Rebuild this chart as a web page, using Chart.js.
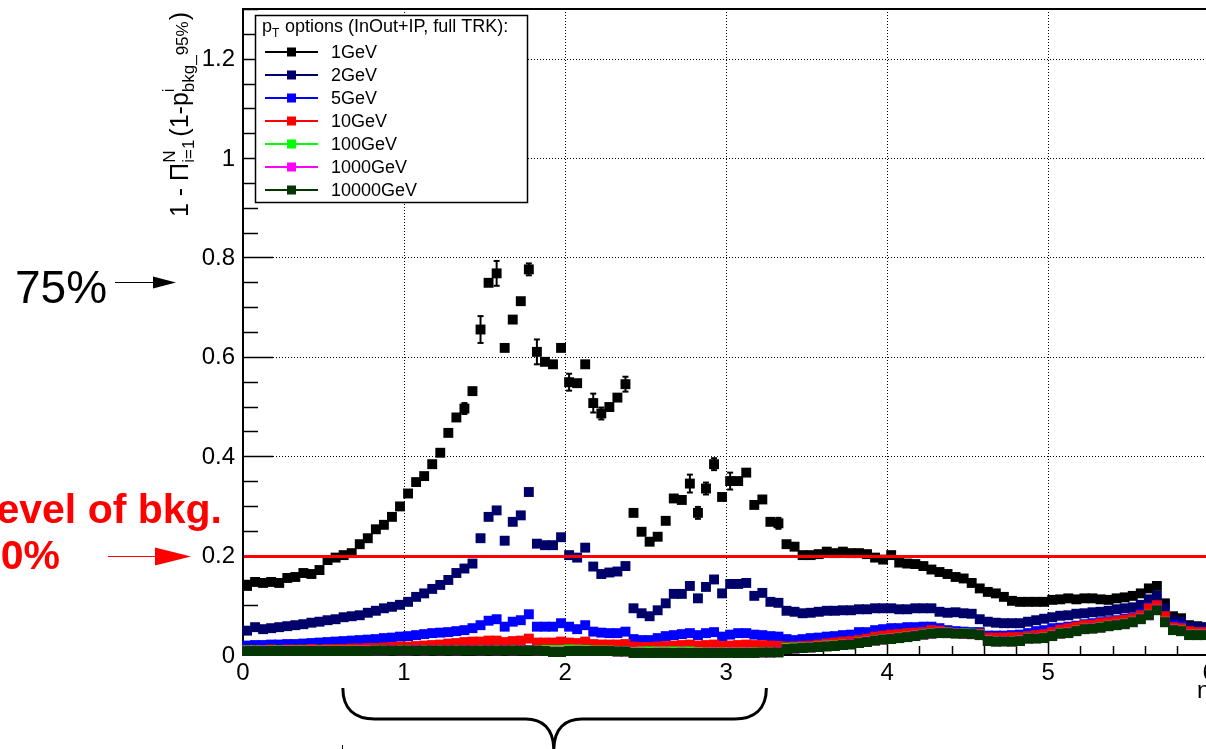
<!DOCTYPE html>
<html>
<head>
<meta charset="utf-8">
<script src="https://cdn.jsdelivr.net/npm/chart.js@4.4.1/dist/chart.umd.min.js"></script>
<style>
  html, body { margin: 0; padding: 0; background: #fff; }
  canvas { display: block; }
</style>
</head>
<body>
<canvas id="eff-chart" width="1206" height="749"></canvas>
<script>
// eta bins: 0.05 wide, 0 .. 6
const etaCenters = Array.from({ length: 120 }, (_, i) => +(0.025 + 0.05 * i).toFixed(3));

const seriesLabels = ['1GeV', '2GeV', '5GeV', '10GeV', '100GeV', '1000GeV', '10000GeV'];
const seriesColors = ['#000000', '#00006b', '#0000ff', '#ff0000', '#00ff00', '#ff00ff', '#033603'];

const pt1GeV = [
  0.139, 0.147, 0.145, 0.147, 0.145, 0.155, 0.157, 0.165, 0.163, 0.171,
  0.191, 0.196, 0.201, 0.205, 0.223, 0.235, 0.253, 0.262, 0.278, 0.299,
  0.325, 0.348, 0.360, 0.384, 0.407, 0.447, 0.478, 0.496, 0.531, 0.655,
  0.749, 0.768, 0.618, 0.675, 0.712, 0.776, 0.610, 0.590, 0.585, 0.618,
  0.549, 0.547, 0.585, 0.507, 0.486, 0.499, 0.518, 0.545, 0.286, 0.248,
  0.228, 0.238, 0.270, 0.315, 0.312, 0.345, 0.286, 0.335, 0.384, 0.318,
  0.350, 0.350, 0.367, 0.302, 0.313, 0.268, 0.265, 0.223, 0.218, 0.201,
  0.201, 0.203, 0.208, 0.205, 0.208, 0.205, 0.205, 0.203, 0.196, 0.192,
  0.201, 0.186, 0.184, 0.183, 0.179, 0.172, 0.167, 0.163, 0.157, 0.154,
  0.145, 0.134, 0.127, 0.124, 0.117, 0.109, 0.107, 0.107, 0.107, 0.107,
  0.111, 0.112, 0.114, 0.112, 0.114, 0.114, 0.112, 0.111, 0.114, 0.116,
  0.119, 0.124, 0.134, 0.139, 0.104, 0.078, 0.074, 0.060, 0.058, 0.056
];
const pt2GeV = [
  0.049, 0.056, 0.052, 0.054, 0.056, 0.058, 0.060, 0.062, 0.065, 0.067,
  0.070, 0.072, 0.076, 0.078, 0.080, 0.085, 0.089, 0.094, 0.097, 0.101,
  0.107, 0.117, 0.124, 0.133, 0.141, 0.151, 0.165, 0.174, 0.184, 0.235,
  0.278, 0.291, 0.230, 0.268, 0.281, 0.328, 0.224, 0.221, 0.221, 0.237,
  0.201, 0.196, 0.216, 0.178, 0.163, 0.166, 0.168, 0.179, 0.094, 0.084,
  0.078, 0.090, 0.104, 0.123, 0.123, 0.139, 0.114, 0.137, 0.152, 0.124,
  0.143, 0.143, 0.145, 0.119, 0.125, 0.107, 0.105, 0.089, 0.087, 0.084,
  0.085, 0.087, 0.089, 0.089, 0.090, 0.090, 0.092, 0.092, 0.094, 0.094,
  0.094, 0.092, 0.092, 0.094, 0.094, 0.094, 0.087, 0.085, 0.086, 0.084,
  0.083, 0.072, 0.067, 0.065, 0.064, 0.064, 0.064, 0.067, 0.070, 0.073,
  0.076, 0.079, 0.080, 0.083, 0.084, 0.086, 0.087, 0.089, 0.092, 0.094,
  0.096, 0.101, 0.112, 0.119, 0.094, 0.070, 0.067, 0.057, 0.056, 0.055
];
const pt5GeV = [
  0.019, 0.020, 0.020, 0.021, 0.021, 0.022, 0.022, 0.023, 0.024, 0.025,
  0.026, 0.027, 0.028, 0.029, 0.030, 0.031, 0.032, 0.034, 0.035, 0.037,
  0.038, 0.040, 0.042, 0.044, 0.045, 0.046, 0.048, 0.050, 0.054, 0.060,
  0.069, 0.072, 0.057, 0.067, 0.070, 0.082, 0.057, 0.057, 0.057, 0.064,
  0.057, 0.052, 0.060, 0.047, 0.045, 0.044, 0.044, 0.047, 0.032, 0.030,
  0.030, 0.034, 0.038, 0.040, 0.042, 0.044, 0.040, 0.044, 0.046, 0.037,
  0.041, 0.044, 0.044, 0.041, 0.040, 0.038, 0.037, 0.032, 0.030, 0.032,
  0.034, 0.035, 0.037, 0.038, 0.040, 0.041, 0.046, 0.046, 0.050, 0.052,
  0.054, 0.054, 0.056, 0.056, 0.057, 0.057, 0.054, 0.050, 0.048, 0.047,
  0.046, 0.046, 0.039, 0.039, 0.039, 0.040, 0.041, 0.044, 0.048, 0.050,
  0.054, 0.055, 0.057, 0.059, 0.062, 0.064, 0.066, 0.068, 0.070, 0.073,
  0.076, 0.083, 0.096, 0.101, 0.078, 0.060, 0.058, 0.048, 0.047, 0.047
];
const pt10GeV = [
  0.010, 0.010, 0.010, 0.011, 0.010, 0.011, 0.011, 0.011, 0.012, 0.011,
  0.012, 0.012, 0.012, 0.013, 0.013, 0.014, 0.014, 0.015, 0.016, 0.017,
  0.017, 0.018, 0.019, 0.020, 0.021, 0.023, 0.024, 0.026, 0.027, 0.027,
  0.029, 0.029, 0.026, 0.028, 0.029, 0.033, 0.025, 0.025, 0.025, 0.027,
  0.025, 0.024, 0.027, 0.022, 0.021, 0.021, 0.021, 0.022, 0.017, 0.016,
  0.016, 0.017, 0.018, 0.019, 0.020, 0.021, 0.019, 0.020, 0.021, 0.018,
  0.019, 0.020, 0.021, 0.020, 0.020, 0.019, 0.018, 0.017, 0.017, 0.018,
  0.019, 0.021, 0.023, 0.025, 0.027, 0.028, 0.030, 0.033, 0.037, 0.039,
  0.041, 0.042, 0.044, 0.045, 0.046, 0.050, 0.049, 0.046, 0.044, 0.043,
  0.042, 0.043, 0.035, 0.035, 0.035, 0.036, 0.036, 0.038, 0.040, 0.042,
  0.046, 0.051, 0.054, 0.057, 0.060, 0.061, 0.064, 0.066, 0.068, 0.071,
  0.074, 0.080, 0.094, 0.100, 0.078, 0.056, 0.054, 0.048, 0.046, 0.046
];
const pt100GeV = [
  0.009, 0.009, 0.009, 0.009, 0.009, 0.009, 0.009, 0.009, 0.009, 0.009,
  0.009, 0.009, 0.009, 0.009, 0.009, 0.009, 0.010, 0.010, 0.010, 0.010,
  0.010, 0.010, 0.010, 0.010, 0.010, 0.010, 0.010, 0.010, 0.010, 0.010,
  0.010, 0.010, 0.010, 0.010, 0.010, 0.010, 0.010, 0.010, 0.010, 0.010,
  0.011, 0.011, 0.010, 0.009, 0.009, 0.009, 0.008, 0.008, 0.006, 0.007,
  0.007, 0.007, 0.007, 0.007, 0.007, 0.007, 0.006, 0.005, 0.005, 0.005,
  0.005, 0.005, 0.005, 0.005, 0.006, 0.006, 0.006, 0.014, 0.015, 0.015,
  0.016, 0.017, 0.019, 0.019, 0.021, 0.022, 0.025, 0.027, 0.030, 0.032,
  0.033, 0.035, 0.037, 0.039, 0.042, 0.044, 0.045, 0.045, 0.044, 0.044,
  0.043, 0.041, 0.029, 0.028, 0.028, 0.028, 0.029, 0.034, 0.034, 0.035,
  0.039, 0.044, 0.045, 0.049, 0.053, 0.054, 0.056, 0.059, 0.061, 0.063,
  0.067, 0.073, 0.081, 0.091, 0.067, 0.051, 0.049, 0.041, 0.041, 0.041
];
const pt1000GeV = [
  0.008, 0.008, 0.009, 0.008, 0.008, 0.009, 0.008, 0.008, 0.009, 0.008,
  0.009, 0.008, 0.009, 0.008, 0.009, 0.009, 0.009, 0.009, 0.010, 0.009,
  0.009, 0.010, 0.009, 0.010, 0.009, 0.010, 0.009, 0.010, 0.010, 0.009,
  0.010, 0.009, 0.010, 0.009, 0.010, 0.010, 0.009, 0.008, 0.007, 0.007,
  0.008, 0.009, 0.008, 0.008, 0.008, 0.008, 0.007, 0.007, 0.005, 0.005,
  0.004, 0.005, 0.005, 0.004, 0.005, 0.004, 0.005, 0.004, 0.005, 0.004,
  0.005, 0.004, 0.005, 0.004, 0.005, 0.005, 0.006, 0.012, 0.013, 0.014,
  0.015, 0.016, 0.018, 0.018, 0.020, 0.022, 0.024, 0.027, 0.029, 0.031,
  0.033, 0.034, 0.036, 0.039, 0.041, 0.043, 0.045, 0.044, 0.044, 0.043,
  0.042, 0.040, 0.029, 0.027, 0.028, 0.027, 0.029, 0.033, 0.034, 0.034,
  0.039, 0.043, 0.045, 0.048, 0.052, 0.054, 0.055, 0.058, 0.061, 0.062,
  0.066, 0.073, 0.080, 0.091, 0.066, 0.051, 0.048, 0.041, 0.040, 0.041
];
const pt10000GeV = [
  0.008, 0.008, 0.008, 0.008, 0.008, 0.008, 0.008, 0.008, 0.008, 0.008,
  0.008, 0.008, 0.008, 0.008, 0.008, 0.008, 0.009, 0.009, 0.009, 0.009,
  0.009, 0.009, 0.009, 0.009, 0.009, 0.009, 0.009, 0.009, 0.009, 0.009,
  0.009, 0.009, 0.009, 0.009, 0.009, 0.009, 0.009, 0.008, 0.006, 0.006,
  0.008, 0.008, 0.008, 0.008, 0.008, 0.008, 0.007, 0.007, 0.004, 0.004,
  0.004, 0.004, 0.004, 0.004, 0.004, 0.004, 0.004, 0.004, 0.004, 0.004,
  0.004, 0.004, 0.004, 0.004, 0.005, 0.005, 0.005, 0.012, 0.013, 0.014,
  0.015, 0.016, 0.017, 0.018, 0.020, 0.021, 0.024, 0.026, 0.029, 0.031,
  0.032, 0.034, 0.036, 0.038, 0.041, 0.043, 0.044, 0.044, 0.043, 0.043,
  0.042, 0.040, 0.028, 0.027, 0.027, 0.027, 0.028, 0.033, 0.033, 0.034,
  0.038, 0.043, 0.044, 0.048, 0.052, 0.053, 0.055, 0.058, 0.060, 0.062,
  0.066, 0.072, 0.080, 0.090, 0.066, 0.050, 0.048, 0.040, 0.040, 0.040
];
const seriesValues = [pt1GeV, pt2GeV, pt5GeV, pt10GeV, pt100GeV, pt1000GeV, pt10000GeV];

// statistical errors on the 1GeV points (only where they stick out of the marker)
const errBins = [27, 29, 31, 35, 36, 40, 43, 44, 47, 55, 56, 57, 58, 60, 66];
const errSizes = [0.011, 0.027, 0.025, 0.012, 0.025, 0.017, 0.019, 0.012, 0.015, 0.018, 0.012, 0.012, 0.012, 0.017, 0.011];

const xTickValues = [0, 1, 2, 3, 4, 5, 6];
const xTickLabels = ['0', '1', '2', '3', '4', '5', '6'];
const yTickValues = [0, 0.2, 0.4, 0.6, 0.8, 1, 1.2];
const yTickLabels = ['0', '0.2', '0.4', '0.6', '0.8', '1', '1.2'];
const bkgLevel = 0.2;
const markedLevel = 0.75;

const SANS = '"Liberation Sans", Arial, Helvetica, sans-serif';

function hline(ctx, x1, x2, y) { ctx.beginPath(); ctx.moveTo(x1, y); ctx.lineTo(x2, y); ctx.stroke(); }
function vline(ctx, x, y1, y2) { ctx.beginPath(); ctx.moveTo(x, y1); ctx.lineTo(x, y2); ctx.stroke(); }

// Axes, grid and ticks, ROOT style
function drawFrame(chart) {
    const { ctx, chartArea: a, scales: { x, y } } = chart;
    ctx.save();
    ctx.strokeStyle = '#000';
    ctx.lineWidth = 1;
    ctx.setLineDash([1, 2]);
    xTickValues.slice(1).forEach(v => {
        const px = Math.round(x.getPixelForValue(v)) + 0.5;
        if (px < a.right) vline(ctx, px, a.top, a.bottom);
    });
    yTickValues.slice(1).forEach(v => hline(ctx, a.left, a.right, Math.round(y.getPixelForValue(v)) + 0.5));
    ctx.setLineDash([]);

    ctx.lineWidth = 1.5;
    for (let k = 1; k <= 26; k++) {
        const v = k * 0.05;
        const py = Math.round(y.getPixelForValue(v)) + 0.5;
        const major = k % 4 === 0;
        hline(ctx, a.left, a.left + (major ? 30 : 15), py);
    }
    for (let k = 1; k <= 30; k++) {
        const v = k * 0.2;
        const px = Math.round(x.getPixelForValue(v)) + 0.5;
        if (px > a.right) continue;
        const major = k % 5 === 0;
        vline(ctx, px, a.bottom, a.bottom - (major ? 17 : 9));
    }

    ctx.lineWidth = 2;
    hline(ctx, a.left - 1, a.right, a.top);
    hline(ctx, a.left - 1, a.right, a.bottom);
    vline(ctx, a.left, a.top, a.bottom + 1);

    ctx.fillStyle = '#000';
    ctx.font = '24px ' + SANS;
    ctx.textAlign = 'right';
    ctx.textBaseline = 'middle';
    yTickValues.forEach((v, i) => ctx.fillText(yTickLabels[i], a.left - 8, y.getPixelForValue(v) + 1));
    ctx.textAlign = 'center';
    ctx.textBaseline = 'alphabetic';
    xTickValues.forEach((v, i) => ctx.fillText(xTickLabels[i], x.getPixelForValue(v), a.bottom + 25));
    ctx.textAlign = 'left';
    ctx.fillText('\u03B7', 1197, 698);
    ctx.restore();
}

function drawYTitle(ctx) {
    const big = '25px ' + SANS;
    const small = '17px ' + SANS;
    ctx.save();
    ctx.translate(188, 217);
    ctx.rotate(-Math.PI / 2);
    ctx.fillStyle = '#000';
    ctx.textAlign = 'left';
    ctx.textBaseline = 'alphabetic';
    let u = 0;
    function put(text, font, dy) {
        ctx.font = font;
        ctx.fillText(text, u, dy);
        return ctx.measureText(text).width;
    }
    u += put('1 - \u03A0', big, 0);
    const wN = put('N', small, -13);
    const wI = put('i=1', small, 6);
    u += Math.max(wN, wI) + 3;
    u += put('(1-p', big, 0);
    put('i', small, -14);
    u += put('bkg_', small, 6);
    u += put('95%', small, 0) + 1;
    put(')', big, 0);
    ctx.restore();
}

function drawLegend(ctx) {
    const left = 255, top = 15, w = 272, h = 187;
    ctx.save();
    ctx.fillStyle = '#fff';
    ctx.fillRect(left, top, w, h);
    ctx.strokeStyle = '#000';
    ctx.lineWidth = 1.5;
    ctx.strokeRect(left + 0.5, top + 0.5, w, h);

    ctx.fillStyle = '#000';
    ctx.textBaseline = 'alphabetic';
    ctx.font = '18px ' + SANS;
    ctx.fillText('p', 262, 32);
    ctx.font = '12px ' + SANS;
    ctx.fillText('T', 272, 37);
    ctx.font = '18px ' + SANS;
    ctx.fillText(' options (InOut+IP, full TRK):', 280, 32);

    seriesLabels.forEach((label, i) => {
        const cy = Math.round(51.5 + 23.05 * i);
        ctx.strokeStyle = seriesColors[i];
        ctx.lineWidth = 2;
        hline(ctx, 265, 318, cy);
        ctx.fillStyle = seriesColors[i];
        ctx.fillRect(287, cy - 4.5, 9, 9);
        ctx.fillStyle = '#000';
        ctx.textBaseline = 'middle';
        ctx.fillText(label, 331, cy + 1);
    });
    ctx.restore();
}

function drawArrow(ctx, x1, xHead, xTip, y, half, color) {
    ctx.strokeStyle = color;
    ctx.fillStyle = color;
    ctx.lineWidth = 1;
    hline(ctx, x1, xHead + 1, y);
    ctx.beginPath();
    ctx.moveTo(xHead, y - half);
    ctx.lineTo(xTip, y);
    ctx.lineTo(xHead, y + half);
    ctx.closePath();
    ctx.fill();
}

function drawNotes(chart) {
    const { ctx, scales: { x, y } } = chart;
    ctx.save();
    const y75 = Math.round(y.getPixelForValue(markedLevel)) + 0.5;
    drawArrow(ctx, 115, 153, 176, y75, 6, '#000');
    ctx.fillStyle = '#000';
    ctx.font = '46px ' + SANS;
    ctx.textAlign = 'left';
    ctx.fillText('75%', 15, 303);

    const y20 = Math.round(y.getPixelForValue(bkgLevel)) + 0.5;
    drawArrow(ctx, 108, 155, 191, y20, 9, '#ff0000');
    ctx.fillStyle = '#ff0000';
    ctx.font = 'bold 41px ' + SANS;
    ctx.textAlign = 'right';
    ctx.fillText('Level of bkg.', 222, 523);
    ctx.fillText('20%', 60, 569);

    // curly brace below the eta axis
    const L = x.getPixelForValue(0.62), R = x.getPixelForValue(3.25), C = x.getPixelForValue(1.93);
    ctx.strokeStyle = '#000';
    ctx.lineWidth = 3;
    ctx.beginPath();
    ctx.moveTo(L, 688);
    ctx.bezierCurveTo(L, 709, L + 12, 719, L + 32, 719);
    ctx.lineTo(C - 28, 719);
    ctx.bezierCurveTo(C - 12, 719, C, 728, C, 750);
    ctx.moveTo(C, 750);
    ctx.bezierCurveTo(C, 728, C + 12, 719, C + 28, 719);
    ctx.lineTo(R - 32, 719);
    ctx.bezierCurveTo(R - 12, 719, R, 709, R, 688);
    ctx.stroke();
    ctx.lineWidth = 1;
    vline(ctx, Math.round(L) - 0.5, 745, 749);
    ctx.restore();
}

const rootStylePlugin = {
    id: 'rootStyle',
    beforeDatasetsDraw(chart) {
        drawFrame(chart);
        drawYTitle(chart.ctx);
    },
    afterDatasetsDraw(chart) {
        const { ctx, chartArea: a, scales: { x, y } } = chart;
        ctx.save();
        ctx.strokeStyle = '#000';
        ctx.lineWidth = 2;
        errBins.forEach((b, i) => {
            const px = x.getPixelForValue(etaCenters[b]);
            const hi = y.getPixelForValue(pt1GeV[b] + errSizes[i]);
            const lo = y.getPixelForValue(pt1GeV[b] - errSizes[i]);
            vline(ctx, px, hi, lo);
            hline(ctx, px - 3, px + 3, hi);
            hline(ctx, px - 3, px + 3, lo);
        });
        ctx.strokeStyle = '#ff0000';
        ctx.lineWidth = 3;
        hline(ctx, a.left + 1, a.right, Math.round(y.getPixelForValue(bkgLevel)) + 0.5);
        ctx.restore();
        drawLegend(ctx);
        drawNotes(chart);
    }
};

document.addEventListener('DOMContentLoaded', function() {
    const ctx = document.getElementById('eff-chart').getContext('2d');
    new Chart(ctx, {
        type: 'scatter',
        data: {
            datasets: seriesLabels.map((label, i) => ({
                label: label,
                data: etaCenters.map((eta, j) => ({ x: eta, y: seriesValues[i][j] })),
                backgroundColor: seriesColors[i],
                borderColor: seriesColors[i],
                pointStyle: 'rect',
                pointRadius: 7,
                pointHoverRadius: 7,
                pointBorderWidth: 0,
                showLine: false,
                clip: false,
                order: seriesLabels.length - i
            }))
        },
        options: {
            responsive: false,
            animation: false,
            devicePixelRatio: 1,
            events: [],
            layout: { autoPadding: false, padding: { left: 243, top: 9, right: 0, bottom: 94 } },
            scales: {
                x: { type: 'linear', min: 0, max: 5.98, display: false },
                y: { type: 'linear', min: 0, max: 1.3, display: false }
            },
            plugins: {
                legend: { display: false },
                tooltip: { enabled: false }
            }
        },
        plugins: [rootStylePlugin]
    });
});
</script>
</body>
</html>
